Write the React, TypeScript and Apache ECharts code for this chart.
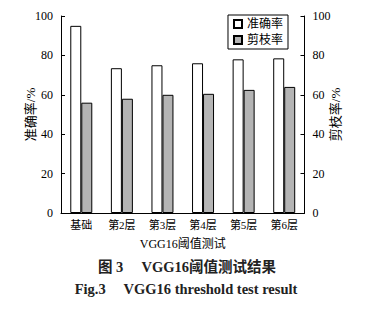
import React, { useEffect, useRef } from "react";
import * as echarts from "echarts";

const categories = ["基础", "第2层", "第3层", "第4层", "第5层", "第6层"];
const accuracy = [95, 73.5, 75, 76, 78, 78.5];
const pruning = [56, 58, 60, 60.5, 62.5, 64];
const yTicks = [0, 20, 40, 60, 80, 100];

const FONT = "'Liberation Serif', 'Noto Sans CJK SC', serif";

export default function App() {
  const ref = useRef<HTMLDivElement>(null);
  useEffect(() => {
    const chart = echarts.init(ref.current!, null, { renderer: "svg" });
    const axisCommon = {
      type: "value",
      min: yTicks[0],
      max: yTicks[yTicks.length - 1],
      interval: 20,
      axisLine: { show: true, lineStyle: { color: "#000", width: 1 } },
      axisTick: { show: true, inside: true, length: 4, lineStyle: { color: "#000" } },
      splitLine: { show: false },
      nameLocation: "middle",
      nameRotate: 90,
      nameMoveOverlap: false,
      nameTextStyle: { color: "#000", fontSize: 13, fontFamily: FONT },
      axisLabel: { color: "#000", fontSize: 12, fontFamily: FONT, margin: 8 },
    };
    chart.setOption({
      animation: false,
      backgroundColor: "#fff",
      title: [
        {
          text: "图 3     VGG16阈值测试结果",
          left: 182,
          top: 255,
          textAlign: "center",
          textStyle: { fontSize: 14.5, fontWeight: "bold", color: "#222", fontFamily: FONT },
        },
        {
          text: "Fig.3     VGG16 threshold test result",
          left: 181,
          top: 277,
          textAlign: "center",
          textStyle: { fontSize: 14.5, fontWeight: "bold", color: "#222", fontFamily: FONT },
        },
      ],
      legend: {
        right: 84,
        top: 15,
        orient: "vertical",
        icon: "rect",
        itemWidth: 8,
        itemHeight: 8,
        itemGap: 4,
        padding: [3, 5, 3, 5],
        borderColor: "#000",
        borderWidth: 1,
        backgroundColor: "#fff",
        textStyle: { color: "#000", fontSize: 12, fontFamily: FONT },
        data: ["准确率", "剪枝率"],
      },
      grid: { left: 61, right: 67.5, top: 16, bottom: 98 },
      xAxis: {
        type: "category",
        data: categories,
        name: "VGG16阈值测试",
        nameLocation: "middle",
        nameGap: 25,
        nameMoveOverlap: false,
        nameTextStyle: { color: "#000", fontSize: 12, fontFamily: FONT },
        axisLine: { lineStyle: { color: "#000", width: 1 } },
        axisTick: { show: false },
        axisLabel: { color: "#000", fontSize: 11, fontFamily: FONT, margin: 6 },
      },
      yAxis: [
        { ...axisCommon, name: "准确率/%", nameGap: 24, position: "left" },
        { ...axisCommon, name: "剪枝率/%", nameGap: 24, position: "right" },
      ],
      series: [
        {
          name: "准确率",
          type: "bar",
          data: accuracy,
          barWidth: 11,
          barGap: "0%",
          itemStyle: { color: "#fff", borderColor: "#000", borderWidth: 1 },
        },
        {
          name: "剪枝率",
          type: "bar",
          yAxisIndex: 1,
          data: pruning,
          barWidth: 11,
          barGap: "0%",
          itemStyle: { color: "#b4b4b4", borderColor: "#000", borderWidth: 1 },
        },
      ],
    });
    return () => chart.dispose();
  }, []);
  return (
    <div
      ref={ref}
      style={{ position: "fixed", left: 0, top: 0, width: 372, height: 311 }}
    />
  );
}
